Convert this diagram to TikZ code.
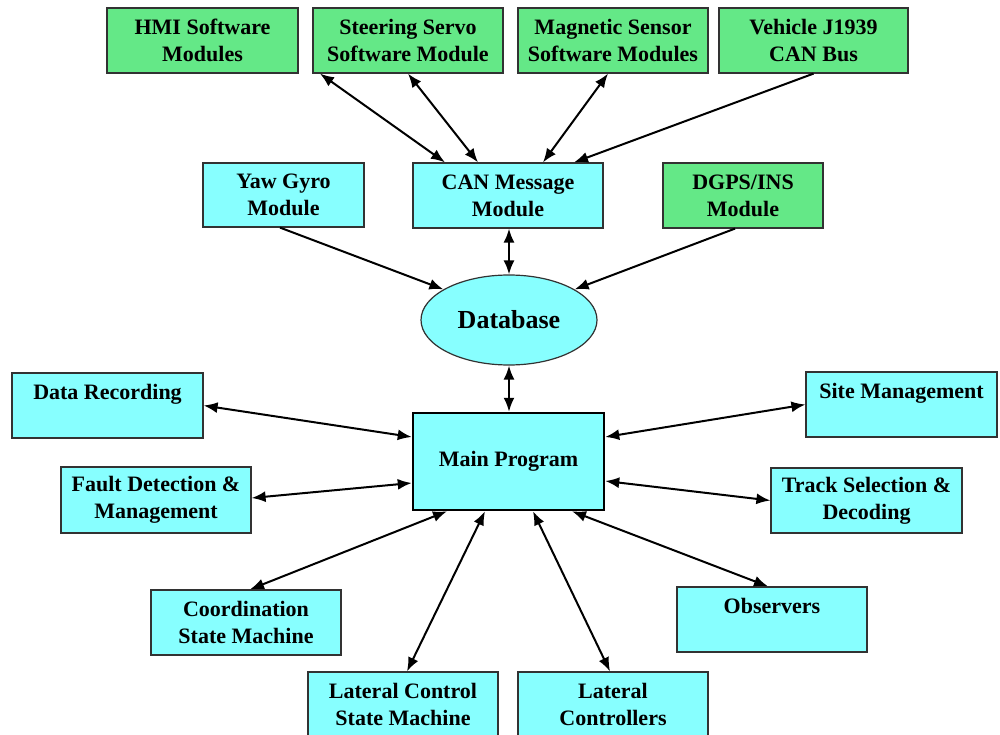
\documentclass[tikz,border=0pt]{standalone}
\usepackage{fontspec}
\setmainfont{Liberation Serif}
\usetikzlibrary{arrows.meta,shapes.geometric}
\definecolor{cyanfill}{RGB}{135,255,255}
\definecolor{greenfill}{RGB}{100,232,135}
\definecolor{edgegray}{RGB}{50,50,50}
\tikzset{
  box/.style={draw=edgegray, line width=1.2pt, rectangle, align=center, inner sep=0pt,
    font=\fontsize{22pt}{27pt}\selectfont\bfseries, text=black},
  cbox/.style={box, fill=cyanfill},
  gbox/.style={box, fill=greenfill},
  conn/.style={line width=2pt, {Latex[length=14pt,width=11pt]}-{Latex[length=14pt,width=11pt]}},
  oneway/.style={line width=2pt, -{Latex[length=14pt,width=11pt]}}
}
\begin{document}
\begin{tikzpicture}[x=1pt,y=-1pt]
\useasboundingbox (0,0) rectangle (1000,735);
% top row (green)
\node[gbox, minimum width=191pt, minimum height=65pt] (hmi) at (202.5,40.5) {HMI Software\\Modules};
\node[gbox, minimum width=190pt, minimum height=65pt] (steer) at (408,40.5) {Steering Servo\\Software Module};
\node[gbox, minimum width=190pt, minimum height=65pt] (mag) at (613,40.5) {Magnetic Sensor\\Software Modules};
\node[gbox, minimum width=189pt, minimum height=65pt] (veh) at (813.5,40.5) {Vehicle J1939\\CAN Bus};
% second row
\node[cbox, minimum width=161pt, minimum height=64pt] (yaw) at (283.5,195) {Yaw Gyro\\Module};
\node[cbox, minimum width=190pt, minimum height=65pt] (can) at (508,195.5) {CAN Message\\Module};
\node[gbox, minimum width=160pt, minimum height=65pt] (dgps) at (743,195.5) {DGPS/INS\\Module};
% database
\node[draw=edgegray, line width=1.2pt, fill=cyanfill, ellipse, minimum width=176pt, minimum height=90pt, inner sep=0pt,
  font=\fontsize{26pt}{30pt}\selectfont\bfseries] (db) at (509,320) {Database};
% main program
\node[cbox, line width=2.5pt, draw=black, minimum width=191pt, minimum height=97pt] (main) at (508.5,461.5) {Main Program};
% side boxes
\node[cbox, minimum width=191pt, minimum height=65pt] (dr) at (107.5,405.5) {Data Recording\\\mbox{}};
\node[cbox, minimum width=191pt, minimum height=65pt] (site) at (901.5,404.5) {Site Management\\\mbox{}};
\node[cbox, minimum width=190pt, minimum height=66pt] (fault) at (156,500) {Fault Detection \&\\Management};
\node[cbox, minimum width=191pt, minimum height=65pt] (track) at (866.5,500.5) {Track Selection \&\\Decoding};
\node[cbox, minimum width=190pt, minimum height=65pt] (coord) at (246,622.5) {Coordination\\State Machine};
\node[cbox, minimum width=190pt, minimum height=65pt] (obs) at (772,619.5) {Observers\\\mbox{}};
\node[cbox, minimum width=190pt, minimum height=65pt] (lcsm) at (403,704.5) {Lateral Control\\State Machine};
\node[cbox, minimum width=190pt, minimum height=65pt] (lc) at (613,704.5) {Lateral\\Controllers};
% connectors top
\draw[conn] ([xshift=117.5pt]hmi.south) -- ([xshift=-63pt]can.north);
\draw[conn] ([xshift=0pt]steer.south) -- ([xshift=-30pt]can.north);
\draw[conn] ([xshift=-5pt]mag.south) -- ([xshift=35pt]can.north);
\draw[oneway] (veh.south) -- ([xshift=66pt]can.north);
\draw[oneway] ([xshift=-3.5pt]yaw.south) -- (db.155);
\draw[oneway] ([xshift=-8pt]dgps.south) -- (db.25);
\draw[conn] ([xshift=1pt]can.south) -- (db.north);
\draw[conn] (db.south) -- ([xshift=0.5pt]main.north);
% connectors around main
\draw[conn] (dr.east) -- ([yshift=24.5pt]main.west);
\draw[conn] ([yshift=2pt]fault.east) -- ([yshift=-21.5pt]main.west);
\draw[conn] (site.west) -- ([yshift=24.5pt]main.east);
\draw[conn] (track.west) -- ([yshift=-19.5pt]main.east);
\draw[conn] ([xshift=4pt]coord.north) -- ([xshift=-61.5pt]main.south);
\draw[conn] ([xshift=4pt]lcsm.north) -- ([xshift=-23.5pt]main.south);
\draw[conn] ([xshift=-3pt]lc.north) -- ([xshift=24.5pt]main.south);
\draw[conn] ([xshift=-4pt]obs.north) -- ([xshift=63.5pt]main.south);
\end{tikzpicture}
\end{document}
